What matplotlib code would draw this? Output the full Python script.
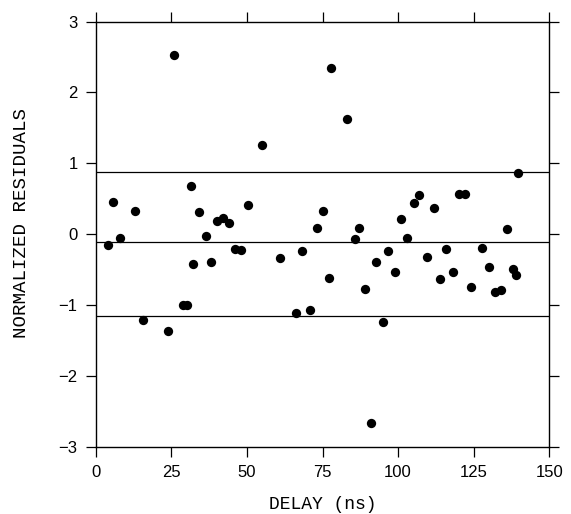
import numpy as np
import matplotlib
matplotlib.use("Agg")
import matplotlib.pyplot as plt

# delay (ns) and normalized residual
delay = [3.97, 5.8, 8.0, 13.0, 15.8, 24.0, 25.9, 29.0, 30.1, 31.4,
         32.1, 34.1, 36.5, 38.2, 40.0, 42.0, 44.2, 45.9, 48.2, 50.4,
         55.0, 60.8, 66.2, 68.1, 71.0, 73.2, 75.0, 77.0, 77.8, 83.0,
         85.6, 87.1, 89.1, 91.1, 92.8, 95.0, 96.5, 99.1, 101.1, 103.1,
         105.1, 106.9, 109.7, 111.9, 114.0, 116.0, 118.0, 120.0, 122.0, 124.0,
         127.9, 130.0, 131.9, 134.1, 136.1, 137.9, 139.1, 139.8]
resid = [-0.16, 0.45, -0.05, 0.32, -1.21, -1.37, 2.53, -1.0, -1.0, 0.68,
         -0.42, 0.31, -0.03, -0.39, 0.18, 0.23, 0.16, -0.21, -0.23, 0.41,
         1.26, -0.33, -1.11, -0.24, -1.07, 0.08, 0.32, -0.62, 2.34, 1.62,
         -0.07, 0.08, -0.77, -2.66, -0.39, -1.24, -0.24, -0.53, 0.21, -0.05,
         0.44, 0.55, -0.32, 0.37, -0.64, -0.21, -0.54, 0.57, 0.57, -0.75,
         -0.19, -0.46, -0.82, -0.79, 0.07, -0.49, -0.58, 0.86]

# mean and +/- one standard deviation lines
hlines = [0.87, -0.11, -1.15]

xticks = [0, 25, 50, 75, 100, 125, 150]
yticks = [-3, -2, -1, 0, 1, 2, 3]

fig = plt.figure(figsize=(5.71, 5.14), dpi=100)
ax = fig.add_axes([0.1676, 0.131, 0.7944, 0.827])

ax.scatter(delay, resid, s=45, color="black", zorder=3, linewidths=0)
for h in hlines:
    ax.axhline(h, color="black", lw=0.9)

ax.set_xlim(0, 150)
ax.set_ylim(-3, 3)
ax.set_xticks(xticks)
ax.set_yticks(yticks)
ax.tick_params(direction="out", length=7, width=0.9, top=True, right=True,
               labelsize=12, pad=6)
for lab in ax.get_xticklabels() + ax.get_yticklabels():
    lab.set_family("Liberation Sans")
for s in ax.spines.values():
    s.set_linewidth(1.0)

ax.set_xlabel("DELAY (ns)", family="Liberation Mono", fontsize=13, labelpad=12)
ax.set_ylabel("NORMALIZED RESIDUALS", family="Liberation Mono", fontsize=13.8)
ax.yaxis.set_label_coords(-0.145, 0.526)

fig.savefig("out.png", dpi=100)
